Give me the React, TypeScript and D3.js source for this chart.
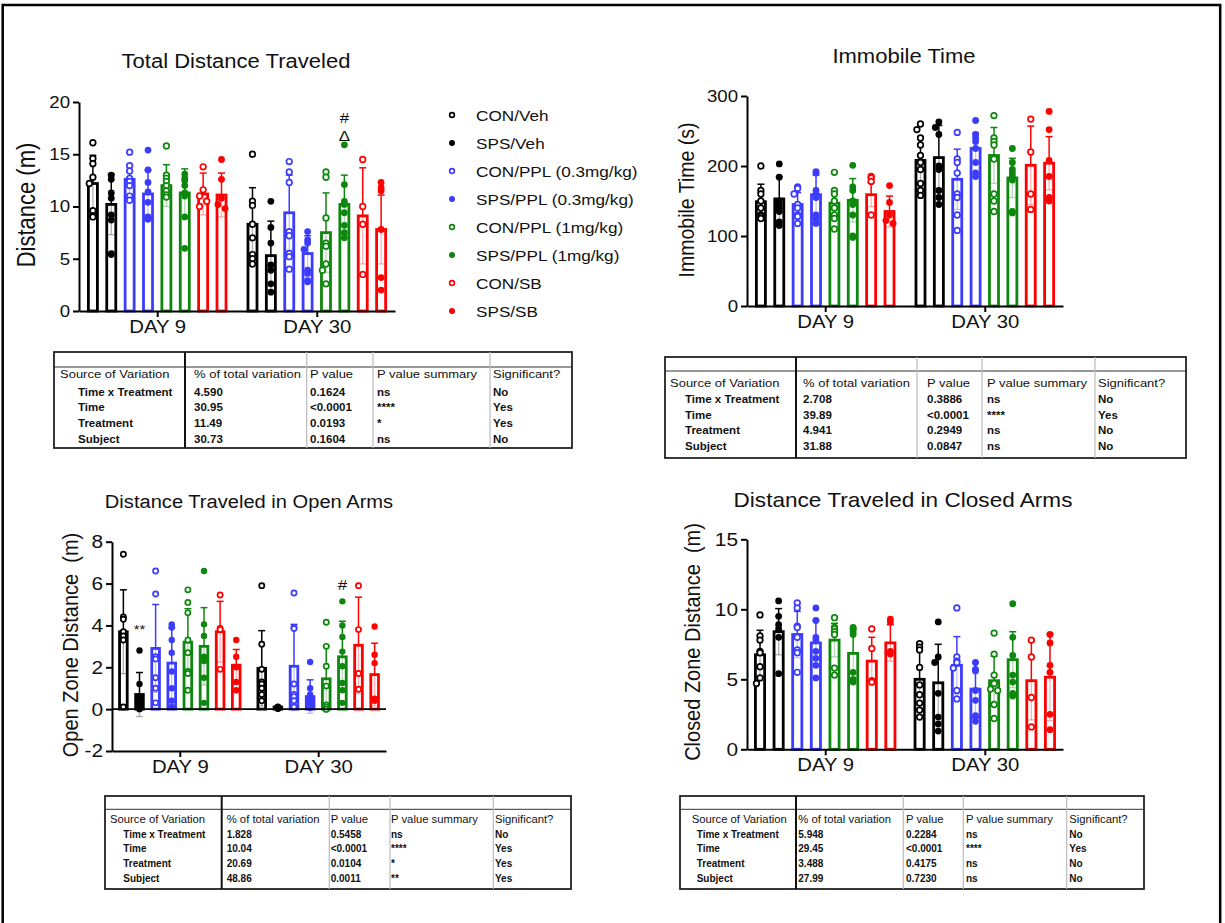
import React, { useEffect, useRef } from "react";
import * as d3 from "d3";

const groups = [
  "CON/Veh",
  "SPS/Veh",
  "CON/PPL (0.3mg/kg)",
  "SPS/PPL (0.3mg/kg)",
  "CON/PPL (1mg/kg)",
  "SPS/PPL (1mg/kg)",
  "CON/SB",
  "SPS/SB",
];
const groupColors = ["#000000", "#000000", "#3c3cff", "#3c3cff", "#0e870e", "#0e870e", "#ff0000", "#ff0000"];
const groupOpen = [true, false, true, false, true, false, true, false];
const days = ["DAY 9", "DAY 30"];

// Total distance traveled (m)
const distMean = [
  [12.2, 10.2, 12.6, 11.2, 12.0, 11.3, 11.2, 11.1],
  [8.3, 5.3, 9.4, 5.5, 7.5, 10.2, 9.1, 7.8],
];
const distSd = [
  [2.7, 2.9, 1.4, 2.3, 2.0, 2.3, 2.0, 2.1],
  [3.5, 3.3, 3.6, 1.7, 3.8, 2.8, 4.6, 3.3],
];
const distPoints = [
  [
    [16.1, 14.6, 14.1, 12.8, 12.2, 9.6, 9.1, 9.0],
    [13.0, 12.6, 11.3, 10.8, 9.2, 8.7, 5.5, 5.4],
    [15.2, 13.9, 13.4, 12.7, 12.4, 12.0, 11.0, 10.6],
    [15.4, 13.5, 12.3, 11.4, 10.4, 9.0, 8.8, 8.8],
    [15.8, 13.0, 12.7, 12.4, 12.0, 11.5, 11.1, 10.9],
    [13.1, 12.7, 12.5, 12.0, 11.3, 11.0, 9.0, 6.0],
    [13.8, 11.6, 11.0, 10.5, 10.0],
    [14.5, 12.6, 10.8, 10.2, 9.8],
  ],
  [
    [15.0, 10.5, 10.1, 8.3, 7.0, 5.4, 5.0, 4.5],
    [10.5, 8.0, 6.5, 4.4, 3.9, 2.6, 1.8],
    [14.3, 13.3, 12.3, 7.6, 7.2, 5.5, 5.2, 4.0],
    [7.6, 6.8, 6.5, 5.9, 3.9, 3.6, 2.9, 2.8],
    [13.3, 12.8, 8.9, 6.5, 6.2, 4.5, 3.9, 2.6],
    [15.9, 12.1, 10.5, 10.2, 9.4, 8.2, 7.5, 7.0],
    [14.5, 10.0, 8.3, 3.5],
    [12.3, 11.8, 11.5, 7.8, 3.2, 2.0],
  ],
];
const distTicks = [0, 5, 10, 15, 20];

// Immobile time (s)
const immMean = [
  [149, 153, 145, 159, 147, 151, 159, 135],
  [208, 212, 181, 225, 215, 183, 201, 204],
];
const immSd = [
  [25, 32, 17, 28, 16, 31, 17, 22],
  [34, 46, 43, 22, 40, 28, 56, 38],
];
const immPoints = [
  [
    [200, 165, 160, 150, 140, 130, 128, 125],
    [203, 184, 150, 145, 140, 135, 120, 115],
    [170, 168, 160, 145, 140, 130, 128, 118],
    [192, 190, 165, 160, 155, 130, 125, 118],
    [191, 165, 160, 150, 140, 130, 125, 110],
    [201, 170, 165, 150, 145, 130, 100, 98],
    [185, 183, 178, 130],
    [172, 148, 130, 122, 118],
  ],
  [
    [260, 252, 240, 230, 215, 205, 195, 175, 165, 158],
    [263, 255, 245, 200, 195, 165, 155, 145],
    [248, 210, 205, 190, 160, 155, 130, 108],
    [265, 245, 240, 235, 225, 205, 190, 185],
    [272, 240, 235, 230, 210, 160, 150, 135],
    [225, 205, 195, 190, 185, 180, 135, 133],
    [267, 220, 160, 138],
    [278, 252, 208, 185, 155, 150],
  ],
];
const immTicks = [0, 100, 200, 300];

// Open zone distance (m)
const openMean = [
  [3.7, 0.7, 2.9, 2.2, 3.2, 3.0, 3.7, 2.1],
  [1.95, 0.1, 2.05, 0.6, 1.45, 2.5, 3.05, 1.65],
];
const openSd = [
  [2.0, 1.05, 2.1, 1.7, 1.6, 1.85, 1.45, 0.75],
  [1.8, 0.05, 2.0, 0.8, 1.55, 1.7, 2.3, 1.5],
];
const openPoints = [
  [
    [7.4, 4.4, 4.3, 3.7, 3.5, 3.3, 0.1],
    [2.8, 1.2, 0.6, 0.4, 0.3, 0.2, 0.1, 0.0],
    [6.6, 5.5, 2.5, 2.4, 1.5, 1.0, 0.3],
    [4.05, 3.9, 3.3, 2.7, 1.8, 1.0, 0.4, 0.1],
    [5.7, 5.1, 4.6, 3.3, 2.7, 1.8, 1.7, 0.9],
    [6.6, 4.05, 3.5, 2.5, 2.3, 1.5, 0.3],
    [5.45, 3.85, 3.8, 1.9],
    [3.3, 2.5, 2.0, 1.3, 0.9],
  ],
  [
    [5.9, 3.1, 1.9, 1.3, 1.2, 1.0, 0.7, 0.4],
    [0.12, 0.08, 0.05, 0.03, 0.02, 0.1, 0.06],
    [5.55, 3.9, 3.85, 1.2, 0.7, 0.6, 0.4, 0.1],
    [2.25, 1.0, 0.7, 0.5, 0.4, 0.2, 0.1, 0.05],
    [4.15, 3.0, 2.05, 1.1, 0.2, 0.1, 0.0, 0.0],
    [5.15, 4.0, 3.45, 2.75, 2.05, 1.25, 0.9, 0.3],
    [5.9, 3.8, 1.7, 0.95],
    [3.95, 2.6, 2.2, 0.5, 0.4],
  ],
];
const openTicks = [-2, 0, 2, 4, 6, 8];

// Closed zone distance (m)
const closedMean = [
  [6.75, 8.4, 8.2, 7.6, 7.8, 6.85, 6.3, 7.6],
  [5.0, 4.75, 6.0, 4.3, 4.9, 6.4, 4.9, 5.15],
];
const closedSd = [
  [1.75, 1.65, 1.65, 1.6, 1.2, 1.75, 1.7, 1.3],
  [2.6, 2.75, 2.05, 1.9, 1.75, 2.0, 2.8, 3.1],
];
const closedPoints = [
  [
    [9.6, 8.1, 7.8, 7.0, 6.9, 5.9, 5.1, 4.7],
    [10.6, 9.5, 8.9, 8.6, 8.0, 5.4],
    [10.45, 10.1, 8.8, 8.7, 8.0, 7.1, 6.9, 5.5],
    [10.1, 9.2, 8.0, 7.8, 7.0, 6.5, 6.0, 5.1],
    [9.4, 8.7, 8.6, 8.4, 8.2, 5.8, 5.3],
    [8.7, 8.6, 8.4, 8.2, 5.5, 5.0, 4.8],
    [8.6, 7.2, 4.9, 4.8],
    [9.3, 9.1, 7.0, 6.8],
  ],
  [
    [7.55, 7.3, 7.1, 5.85, 4.6, 3.9, 3.3, 2.8, 2.3],
    [9.1, 6.6, 6.2, 4.0, 2.3, 1.8, 1.3],
    [10.1, 6.6, 6.3, 6.2, 5.8, 4.2, 3.6],
    [6.2, 5.7, 5.6, 4.2, 3.5, 2.4, 2.3, 2.0],
    [8.3, 6.8, 5.3, 4.7, 4.3, 4.2, 3.2, 2.2],
    [10.4, 8.0, 6.7, 5.3, 4.8, 4.0, 3.8],
    [7.8, 6.6, 3.7, 1.6],
    [8.2, 7.6, 6.0, 5.5, 2.5, 1.4],
  ],
];
const closedTicks = [0, 5, 10, 15];

// significance marks: [day, group, value, text]
const distMarks: [number, number, number, string][] = [
  [1, 5, 18.5, "#"],
  [1, 5, 16.8, "Δ"],
];
const openMarks: [number, number, number, string][] = [
  [0, 1, 3.8, "**"],
  [1, 5, 5.95, "#"],
];

// two-way ANOVA tables
const tableHeader = ["Source of Variation", "% of total variation", "P value", "P value summary", "Significant?"];
const sources = ["Time x Treatment", "Time", "Treatment", "Subject"];
const distPct = ["4.590", "30.95", "11.49", "30.73"];
const distP = ["0.1624", "<0.0001", "0.0193", "0.1604"];
const distSum = ["ns", "****", "*", "ns"];
const distSig = ["No", "Yes", "Yes", "No"];
const immPct = ["2.708", "39.89", "4.941", "31.88"];
const immP = ["0.3886", "<0.0001", "0.2949", "0.0847"];
const immSum = ["ns", "****", "ns", "ns"];
const immSig = ["No", "Yes", "No", "No"];
const openPct = ["1.828", "10.04", "20.69", "48.86"];
const openP = ["0.5458", "<0.0001", "0.0104", "0.0011"];
const openSum = ["ns", "****", "*", "**"];
const openSig = ["No", "Yes", "Yes", "Yes"];
const closedPct = ["5.948", "29.45", "3.488", "27.99"];
const closedP = ["0.2284", "<0.0001", "0.4175", "0.7230"];
const closedSum = ["ns", "****", "ns", "ns"];
const closedSig = ["No", "Yes", "No", "No"];

const W = 1225;
const H = 923;
const FONT = "'Liberation Sans', Arial, Helvetica, sans-serif";
const SX = 1.13; // the figure is slightly stretched horizontally

function addText(g: any, s: string, x: number, y: number, size: number, opts: any = {}) {
  return g
    .append("text")
    .attr("transform", `translate(${x},${y}) scale(${opts.sx ?? SX},1)${opts.rotate ? " rotate(-90)" : ""}`)
    .attr("font-size", size)
    .attr("font-family", FONT)
    .attr("font-weight", opts.weight ?? "normal")
    .attr("text-anchor", opts.anchor ?? "middle")
    .attr("dominant-baseline", opts.baseline ?? "central")
    .attr("fill", "#111")
    .style("white-space", "pre")
    .text(s);
}

// simple beeswarm: horizontal offsets so points don't overlap
function swarm(vals: number[], y: (v: number) => number, r: number, maxOff: number) {
  const order = d3.range(vals.length).sort((a, b) => vals[b] - vals[a]);
  const placed: { x: number; y: number }[] = [];
  const out = new Array(vals.length).fill(0);
  const steps = [0, -1, 1, -2, 2];
  order.forEach((i) => {
    const py = y(vals[i]);
    let best = 0;
    for (const k of steps) {
      const off = k * r * 1.05;
      if (Math.abs(off) > maxOff) continue;
      if (placed.every((p) => (p.x - off) ** 2 + (p.y - py) ** 2 >= (1.9 * r) ** 2)) {
        best = off;
        break;
      }
    }
    placed.push({ x: best, y: py });
    out[i] = best;
  });
  return out;
}

const panels = [
  {
    title: "Total Distance Traveled", titleX: 236, titleY: 61, titleSize: 19.5,
    yLabel: "Distance (m)", yLabelX: 27, yLabelY: 205, yLabelSize: 22,
    x0: 79, x1: 395, yRange: [311, 102], domain: [0, 20], ticks: distTicks, tickSize: 16.5,
    groupW: 147, r: 3.4, mean: distMean, sd: distSd, points: distPoints, marks: distMarks, zeroLine: false,
  },
  {
    title: "Immobile Time", titleX: 904, titleY: 56, titleSize: 19.5,
    yLabel: "Immobile Time (s)", yLabelX: 686, yLabelY: 200, yLabelSize: 19.5,
    x0: 747, x1: 1063, yRange: [306, 96], domain: [0, 300], ticks: immTicks, tickSize: 16.5,
    groupW: 147, r: 3.4, mean: immMean, sd: immSd, points: immPoints, marks: [], zeroLine: false,
  },
  {
    title: "Distance Traveled in Open Arms", titleX: 249, titleY: 502, titleSize: 17.8,
    yLabel: "Open Zone Distance  (m)", yLabelX: 71, yLabelY: 645, yLabelSize: 20,
    x0: 112, x1: 386, yRange: [751, 541.7], domain: [-2, 8], ticks: openTicks, tickSize: 18.5,
    groupW: 129, r: 3.2, mean: openMean, sd: openSd, points: openPoints, marks: openMarks, zeroLine: true,
  },
  {
    title: "Distance Traveled in Closed Arms", titleX: 903, titleY: 500, titleSize: 20,
    yLabel: "Closed Zone Distance  (m)", yLabelX: 693, yLabelY: 642, yLabelSize: 20,
    x0: 747, x1: 1063, yRange: [749.3, 539.3], domain: [0, 15], ticks: closedTicks, tickSize: 18.5,
    groupW: 149, r: 3.4, mean: closedMean, sd: closedSd, points: closedPoints, marks: [], zeroLine: false,
  },
];

const tables = [
  {
    left: 54, top: 352, right: 572, bottom: 448, headLine: 367, cols: [185, 306.7, 373, 490],
    tx: [60, 78, 194, 310, 377, 493], rows: [374.5, 391.5, 407.3, 423, 439.3], size: 11.5,
    pct: distPct, p: distP, sum: distSum, sig: distSig,
  },
  {
    left: 665, top: 357, right: 1186, bottom: 458, headLine: 371, cols: [796, 917, 982, 1095],
    tx: [670, 685, 803, 927, 987, 1098], rows: [383.5, 399.3, 414.5, 430, 446], size: 11.5,
    pct: immPct, p: immP, sum: immSum, sig: immSig,
  },
  {
    left: 105, top: 796, right: 571, bottom: 889, headLine: 809.3, cols: [221.7, 329.3, 390, 493.3],
    tx: [110, 123.3, 226.7, 330.7, 391, 495], rows: [819.5, 834, 848.5, 863, 878.3], size: 10,
    pct: openPct, p: openP, sum: openSum, sig: openSig,
  },
  {
    left: 680, top: 796, right: 1144, bottom: 889, headLine: 809.3, cols: [796, 903.3, 963.3, 1066.7],
    tx: [691.7, 696.7, 798.3, 906, 966, 1069.3], rows: [819.5, 834, 848.5, 863, 878.3], size: 10,
    pct: closedPct, p: closedP, sum: closedSum, sig: closedSig,
  },
];

const App = () => {
  const svgRef = useRef<SVGSVGElement>(null);

  useEffect(() => {
    const svg = d3.select(svgRef.current);
    svg.selectAll("*").remove();

    svg.append("rect").attr("width", W).attr("height", H).attr("fill", "#fff");
    // outer frame
    svg.append("rect")
      .attr("x", 2.7).attr("y", 5).attr("width", 1217.5).attr("height", 960)
      .attr("fill", "none").attr("stroke", "#000").attr("stroke-width", 2.5);

    panels.forEach((pn) => {
      const g = svg.append("g");
      const y = d3.scaleLinear().domain(pn.domain).range(pn.yRange);
      const x = d3.scalePoint().domain(days).range([pn.x0, pn.x1]).padding(0.49);
      const inner = d3.scaleBand<number>()
        .domain(d3.range(groups.length))
        .range([-pn.groupW / 2, pn.groupW / 2])
        .paddingInner(0.4)
        .paddingOuter(0.2);
      const bw = inner.bandwidth();
      const base = y(Math.max(0, pn.domain[0]));
      const axisY = y(pn.domain[0]);

      // bars, error bars, points
      days.forEach((day, di) => {
        groups.forEach((_, gi) => {
          const cx = (x(day) as number) + (inner(gi) as number) + bw / 2;
          const col = groupColors[gi];
          const m = pn.mean[di][gi];
          const s = pn.sd[di][gi];
          g.append("rect")
            .attr("x", cx - (bw - 2) / 2).attr("width", bw - 2)
            .attr("y", y(m)).attr("height", base - y(m))
            .attr("fill", "#fff").attr("stroke", col).attr("stroke-width", 2.8);
          // lower SD (seen faintly through the bar)
          g.append("line").attr("x1", cx).attr("x2", cx).attr("y1", y(m)).attr("y2", y(m - s))
            .attr("stroke", col).attr("stroke-width", 1.3).attr("opacity", 0.3);
          g.append("line").attr("x1", cx - 3.5).attr("x2", cx + 3.5).attr("y1", y(m - s)).attr("y2", y(m - s))
            .attr("stroke", col).attr("stroke-width", 1.3).attr("opacity", 0.3);
          // upper SD
          g.append("line").attr("x1", cx).attr("x2", cx).attr("y1", y(m)).attr("y2", y(m + s))
            .attr("stroke", col).attr("stroke-width", 1.5);
          g.append("line").attr("x1", cx - 3.5).attr("x2", cx + 3.5).attr("y1", y(m + s)).attr("y2", y(m + s))
            .attr("stroke", col).attr("stroke-width", 1.5);

          const vals = pn.points[di][gi];
          const offs = swarm(vals, y, pn.r, bw * 0.5);
          vals.forEach((v, k) => {
            g.append("circle")
              .attr("cx", cx + offs[k]).attr("cy", y(v))
              .attr("r", groupOpen[gi] ? pn.r - 0.6 : pn.r)
              .attr("fill", groupOpen[gi] ? "#fff" : col)
              .attr("stroke", groupOpen[gi] ? col : "none")
              .attr("stroke-width", 1.7);
          });
        });
      });

      // zero baseline when the axis goes below 0
      if (pn.zeroLine) {
        g.append("line").attr("x1", pn.x0).attr("x2", pn.x1).attr("y1", y(0)).attr("y2", y(0))
          .attr("stroke", "#000").attr("stroke-width", 1.8);
      }

      // axes
      const yAxis = g.append("g").attr("transform", `translate(${pn.x0},0)`)
        .call(d3.axisLeft(y).tickValues(pn.ticks).tickSize(6).tickSizeOuter(0).tickPadding(3)
          .tickFormat((d) => String(d)));
      const xAxis = g.append("g").attr("transform", `translate(0,${axisY})`)
        .call(d3.axisBottom(x).tickSize(6).tickSizeOuter(0).tickPadding(3));
      [yAxis, xAxis].forEach((a) => {
        a.select(".domain").attr("stroke", "#000").attr("stroke-width", 2);
        a.selectAll(".tick line").attr("stroke", "#000").attr("stroke-width", 2);
        a.selectAll("text").attr("font-family", FONT).attr("fill", "#111");
      });
      yAxis.selectAll("text").attr("font-size", pn.tickSize)
        .attr("transform", `scale(${SX},1)`).attr("x", -9 / SX);
      xAxis.selectAll("text").attr("font-size", 18).attr("transform", `scale(${SX},1)`);

      addText(g, pn.title, pn.titleX, pn.titleY, pn.titleSize);
      addText(g, pn.yLabel, pn.yLabelX, pn.yLabelY, pn.yLabelSize, { rotate: true });

      pn.marks.forEach(([di, gi, v, t]) => {
        const cx = (x(days[di]) as number) + (inner(gi) as number) + bw / 2;
        addText(g, t, cx, y(v), t === "**" ? 13 : 15);
      });
    });

    // legend
    const lg = svg.append("g");
    const ly = d3.scalePoint().domain(groups).range([115, 311]);
    groups.forEach((name, i) => {
      const yy = ly(name) as number;
      lg.append("circle").attr("cx", 452).attr("cy", yy)
        .attr("r", groupOpen[i] ? 2.4 : 3)
        .attr("fill", groupOpen[i] ? "#fff" : groupColors[i])
        .attr("stroke", groupOpen[i] ? groupColors[i] : "none")
        .attr("stroke-width", 1.6);
      addText(lg, name, 476, yy, 15.2, { anchor: "start" });
    });

    // ANOVA tables
    tables.forEach((t) => {
      const g = svg.append("g");
      g.append("rect").attr("x", t.left).attr("y", t.top)
        .attr("width", t.right - t.left).attr("height", t.bottom - t.top)
        .attr("fill", "#fff").attr("stroke", "#222").attr("stroke-width", 1.8);
      g.append("line").attr("x1", t.left).attr("x2", t.right).attr("y1", t.headLine).attr("y2", t.headLine)
        .attr("stroke", "#333").attr("stroke-width", 1);
      t.cols.forEach((cx, i) => {
        g.append("line").attr("x1", cx).attr("x2", cx).attr("y1", t.top).attr("y2", t.bottom)
          .attr("stroke", i === 0 ? "#111" : "#bbb").attr("stroke-width", i === 0 ? 2 : 1.2);
      });
      const colX = [t.tx[2], t.tx[3], t.tx[4], t.tx[5]];
      tableHeader.forEach((h, i) => {
        addText(g, h, i === 0 ? t.tx[0] : colX[i - 1], t.rows[0], t.size, { anchor: "start" });
      });
      sources.forEach((src, r) => {
        const yy = t.rows[r + 1];
        const cells = [t.pct[r], t.p[r], t.sum[r], t.sig[r]];
        addText(g, src, t.tx[1], yy, t.size, { anchor: "start", weight: "bold", sx: 1 });
        cells.forEach((c, i) => {
          addText(g, c, colX[i], yy, t.size, { anchor: "start", weight: "bold", sx: 1 });
        });
      });
    });
  }, []);

  return (
    <svg
      ref={svgRef}
      width={W}
      height={H}
      style={{ position: "absolute", left: 0, top: 0 }}
    ></svg>
  );
};

export default App;
